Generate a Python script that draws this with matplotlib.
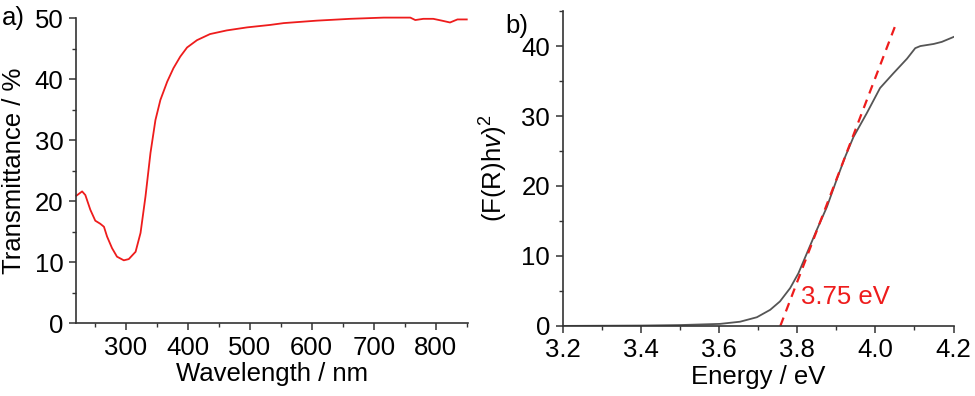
import numpy as np
import matplotlib
matplotlib.use('Agg')
import matplotlib.pyplot as plt
from matplotlib.ticker import MultipleLocator, FormatStrFormatter

plt.rcParams['font.family'] = ['Liberation Sans', 'DejaVu Sans']
plt.rcParams['mathtext.fontset'] = 'custom'
plt.rcParams['mathtext.rm'] = 'Liberation Sans'
plt.rcParams['mathtext.it'] = 'Liberation Sans:italic'
plt.rcParams['font.size'] = 18.5

# a) transmittance spectrum
wavelength = [220.6, 229.8, 235, 243, 251, 259, 265, 270, 278, 286, 297,
              305, 316, 324, 332, 340, 348, 356, 367, 377, 388, 399, 415,
              436, 463, 496, 533, 555, 608, 662, 716, 759, 767, 780, 796,
              810, 823, 835, 850]
transmittance = [20.9, 21.6, 21.0, 18.6, 16.8, 16.3, 15.8, 14.2, 12.3, 10.9,
                 10.3, 10.5, 11.7, 14.8, 20.8, 27.9, 33.3, 36.6, 39.6, 41.8,
                 43.7, 45.2, 46.4, 47.4, 48.0, 48.5, 48.9, 49.2, 49.6, 49.9,
                 50.1, 50.1, 49.7, 49.9, 49.9, 49.6, 49.3, 49.8, 49.8]

# b) Tauc plot
energy = [3.2, 3.4, 3.5, 3.603, 3.654, 3.697, 3.731, 3.756, 3.782, 3.803,
          3.825, 3.85, 3.876, 3.901, 3.923, 3.944, 3.978, 4.012, 4.046,
          4.081, 4.102, 4.115, 4.149, 4.17, 4.2]
tauc = [0, 0.05, 0.12, 0.29, 0.6, 1.24, 2.3, 3.5, 5.4, 7.5, 10.4, 13.7,
        17.0, 20.9, 24.2, 27.0, 30.4, 34.0, 36.1, 38.2, 39.7, 40.0, 40.3,
        40.6, 41.3]

band_gap = 3.757
fit_slope = 146.0
fit_x = np.array([3.757, 4.055])
fit_y = fit_slope * (fit_x - band_gap)

fig = plt.figure(figsize=(9.75, 3.96), dpi=100)
ax1 = fig.add_axes([0.078, 0.184, 0.402, 0.770])
ax2 = fig.add_axes([0.577, 0.177, 0.401, 0.795])

spine_col = '#333333'
for ax in (ax1, ax2):
    for s in ('top', 'right'):
        ax.spines[s].set_visible(False)
    for s in ('left', 'bottom'):
        ax.spines[s].set_color(spine_col)
        ax.spines[s].set_linewidth(1.2)
    ax.tick_params(which='major', direction='out', length=5, width=1.1,
                   color=spine_col, pad=4)
    ax.tick_params(which='minor', direction='out', length=3, width=1.0,
                   color=spine_col)

ax1.plot(wavelength, transmittance, color='#ee1c1c', lw=1.3, clip_on=False)
ax1.set_xlim(220, 852)
ax1.set_ylim(0, 50)
ax1.set_xticks([300, 400, 500, 600, 700, 800])
ax1.xaxis.set_minor_locator(MultipleLocator(50))
ax1.yaxis.set_major_locator(MultipleLocator(10))
ax1.yaxis.set_minor_locator(MultipleLocator(5))
ax1.set_xlabel('Wavelength / nm', labelpad=2)
ax1.set_ylabel('Transmittance / %', labelpad=6)

ax2.plot(energy, tauc, color='#555555', lw=1.3)
ax2.plot(fit_x, fit_y, color='#ee1c1c', lw=1.6, ls=(0, (4, 3)))
ax2.text(3.81, 3.2, '3.75 eV', color='#ee1c1c')
ax2.set_xlim(3.2, 4.2)
ax2.set_ylim(0, 45)
ax2.xaxis.set_major_locator(MultipleLocator(0.2))
ax2.xaxis.set_minor_locator(MultipleLocator(0.1))
ax2.xaxis.set_major_formatter(FormatStrFormatter('%.1f'))
ax2.yaxis.set_minor_locator(MultipleLocator(5))
ax2.set_yticks([0, 10, 20, 30, 40])
ax2.set_xlabel('Energy / eV', labelpad=2)
ax2.set_ylabel(r'(F(R)h$\mathit{v}$)$^2$', labelpad=8)

fig.text(0.002, 0.955, 'a)', va='center', ha='left')
fig.text(0.518, 0.935, 'b)', va='center', ha='left')

fig.savefig('out.png', dpi=100)
